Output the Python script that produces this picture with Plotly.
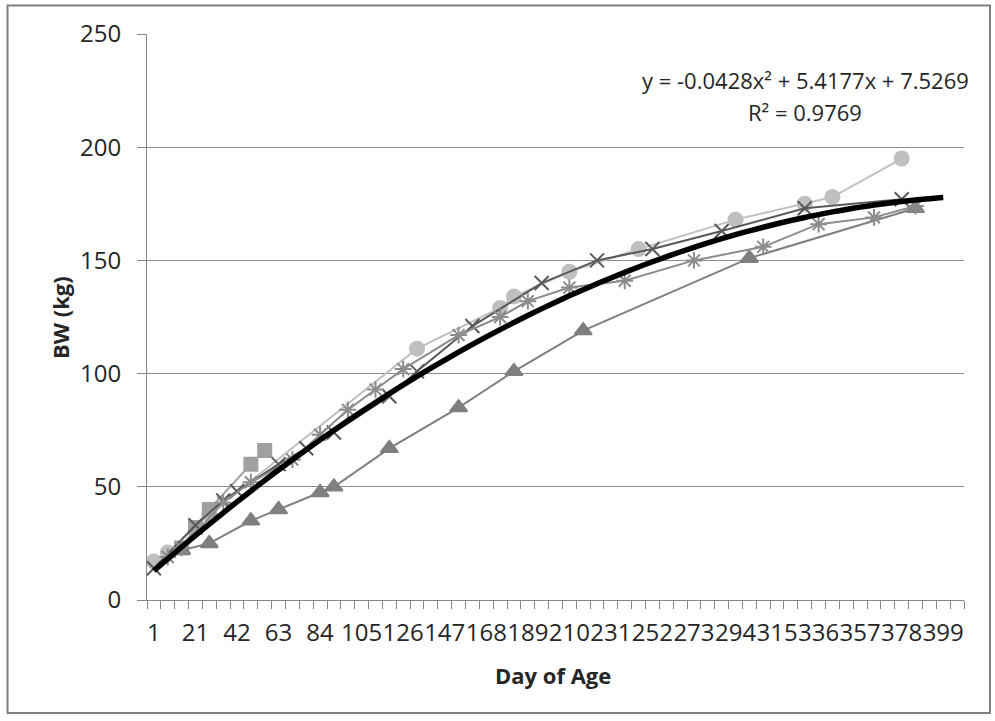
import plotly.graph_objects as go

# Category axis: days of age (Excel-style category axis, one category per week)
days = [1] + [7 * i for i in range(1, 59)]
tick_days = days[::3]

# Series (day of age, body weight kg)
a_days = [1, 7, 28, 133, 175, 182, 210, 245, 294, 329, 343, 378]
a_bw = [17, 21, 38, 111, 129, 134, 145, 155, 168, 175, 178, 195]

b_days = [14, 21, 28, 49, 56]
b_bw = [23, 32, 40, 60, 66]

c_days = [1, 21, 35, 42, 63, 77, 91, 119, 133, 161, 196, 224, 252, 287, 329, 378]
c_bw = [14, 33, 44, 48, 60, 67, 74, 90, 101, 121, 140, 150, 155, 163, 173, 177]

d_days = [14, 28, 49, 63, 84, 91, 119, 154, 182, 217, 301, 385]
d_bw = [22, 25, 35, 40, 47.5, 50, 67, 85, 101, 119, 151, 173]

e_days = [7, 14, 35, 49, 70, 84, 98, 112, 126, 154, 175, 189, 210, 238, 273, 308, 336, 364, 385]
e_bw = [19, 23, 43, 52, 62, 73, 84, 93, 102, 117, 125, 132, 138, 141, 150, 156, 166, 169, 174]

# Polynomial trendline as displayed on the chart (x = category number)
trend_coef = [-0.0428, 5.4177, 7.5269]
r_squared = 0.9769
trend_x = list(range(1, 59))

pos = {d: i + 1 for i, d in enumerate(days)}

FONT = "Open Sans"
TXT = "#262626"
AX = "#868686"

fig = go.Figure()

series = [
    (a_days, a_bw, "circle", 14, "#BFBFBF"),
    (b_days, b_bw, "square", 13, "#A0A0A0"),
    (c_days, c_bw, "x-thin-open", 14, "#595959"),
    (d_days, d_bw, "triangle-up", 15, "#7F7F7F"),
    (e_days, e_bw, "asterisk-open", 14, "#8C8C8C"),
]
for dd, bw, sym, sz, col in series:
    fig.add_trace(go.Scatter(
        x=[pos[d] for d in dd], y=bw, mode="lines+markers",
        line=dict(color=col, width=2),
        marker=dict(symbol=sym, size=sz, color=col, line=dict(color=col, width=2)),
        showlegend=False, hoverinfo="skip",
    ))

trend_y = [trend_coef[0] * x * x + trend_coef[1] * x + trend_coef[2] for x in trend_x]
fig.add_trace(go.Scatter(
    x=trend_x, y=trend_y, mode="lines",
    line=dict(color="#000000", width=5.5, shape="spline"),
    showlegend=False, hoverinfo="skip",
))

fig.update_layout(
    width=995, height=721, autosize=False,
    margin=dict(l=147, r=31, t=34, b=121),
    paper_bgcolor="white", plot_bgcolor="white",
    font=dict(family=FONT, color=TXT),
    xaxis=dict(
        range=[0.5, 59.5], tickmode="array",
        tickvals=[pos[d] for d in tick_days], ticktext=[str(d) for d in tick_days],
        tickangle=0, ticks="", ticklabelstandoff=11,
        tickfont=dict(size=24, family=FONT, color=TXT),
        showline=True, linecolor=AX, linewidth=1,
        showgrid=False, zeroline=False,
        minor=dict(tickmode="linear", tick0=0.5, dtick=1, ticks="outside",
                   ticklen=8, tickcolor=AX, tickwidth=1, showgrid=False),
    ),
    yaxis=dict(
        range=[0, 250], tickmode="linear", tick0=0, dtick=50,
        ticks="outside", ticklen=9, tickcolor=AX, ticklabelstandoff=11,
        tickfont=dict(size=24, family=FONT, color=TXT),
        showline=True, linecolor=AX, linewidth=1,
        showgrid=True, gridcolor="#8C8C8C", gridwidth=1, zeroline=False,
    ),
    shapes=[dict(type="rect", xref="paper", yref="paper",
                 x0=-0.1707, x1=1.0318, y0=-0.1996, y1=1.0504,
                 line=dict(color="#7F7F7F", width=2), layer="below")],
    annotations=[
        dict(text="y = %.4fx² + %.4fx + %.4f" % tuple(trend_coef),
             xref="paper", yref="paper", x=0.8054, y=0.9187,
             xanchor="center", yanchor="middle", showarrow=False,
             font=dict(size=22, family=FONT, color=TXT)),
        dict(text="R² = %.4f" % r_squared,
             xref="paper", yref="paper", x=0.8054, y=0.8622,
             xanchor="center", yanchor="middle", showarrow=False,
             font=dict(size=22, family=FONT, color=TXT)),
        dict(text="<b>BW (kg)</b>", textangle=-90,
             xref="paper", yref="paper", x=-0.1065, y=0.5,
             xanchor="center", yanchor="middle", showarrow=False,
             font=dict(size=22, family=FONT, color=TXT)),
        dict(text="<b>Day of Age</b>",
             xref="paper", yref="paper", x=0.497, y=-0.1325,
             xanchor="center", yanchor="middle", showarrow=False,
             font=dict(size=22, family=FONT, color=TXT)),
    ],
)

fig.write_html("out.html", config={"displayModeBar": False},
               post_script="document.body.style.margin='0';")
